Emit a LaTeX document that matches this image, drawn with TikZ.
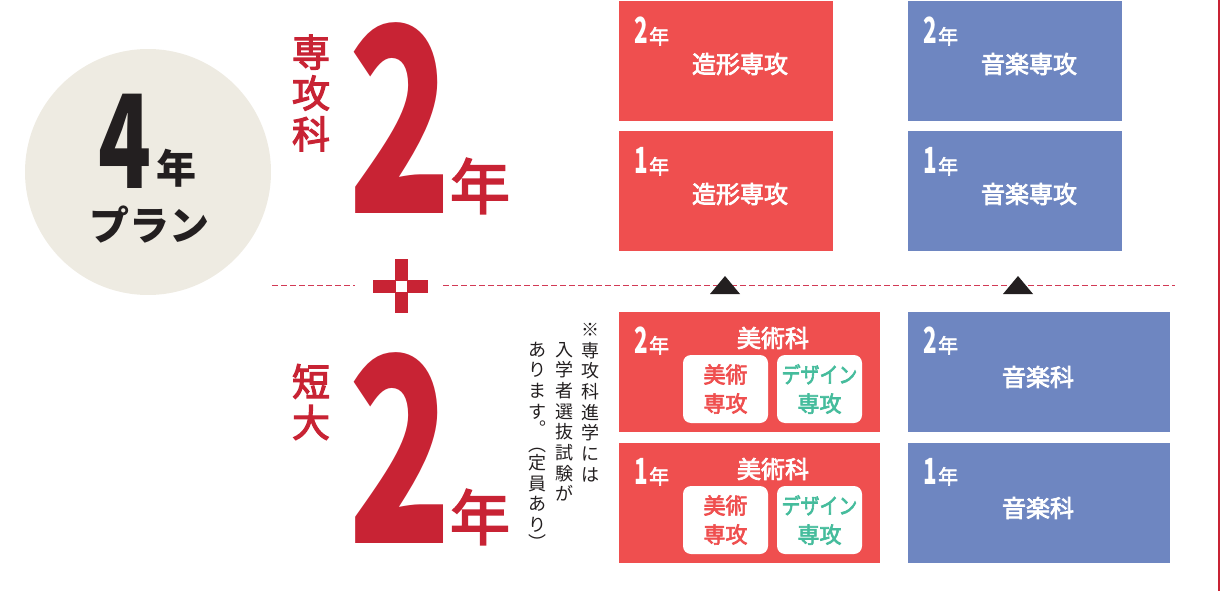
\documentclass[tikz,border=0pt]{standalone}
\usepackage{fontspec}
\setmainfont{Noto Sans CJK JP}
\newfontfamily\medfont{Noto Sans CJK JP}[FakeBold=3]
\usetikzlibrary{calc}
\definecolor{boxred}{HTML}{EF4F4F}
\definecolor{boxblue}{HTML}{6E86C1}
\definecolor{crimson}{HTML}{C82334}
\definecolor{circbg}{HTML}{EEEBE2}
\definecolor{tealc}{HTML}{45BC9C}
\definecolor{inkc}{HTML}{231F20}
\definecolor{dashc}{HTML}{D23A55}
\newcommand{\bigdigit}[3]{\scalebox{#2}[1]{\fontsize{#1}{#1}\selectfont\bfseries #3}}
\newcommand{\yrlabel}[1]{\scalebox{0.62}[1]{\fontsize{36}{36}\selectfont\bfseries #1}\kern1.5pt{\fontsize{20}{20}\selectfont\medfont 年}}
\begin{document}
\begin{tikzpicture}[x=1pt,y=-1pt,
  every node/.style={inner sep=0pt, outer sep=0pt},
  redbox/.style={fill=boxred, minimum width=214pt, minimum height=120pt, anchor=north west},
  bluebox/.style={fill=boxblue, minimum width=214pt, minimum height=120pt, anchor=north west},
  wideredbox/.style={redbox, minimum width=261pt},
  widebluebox/.style={bluebox, minimum width=262pt},
  subbox/.style={fill=white, rounded corners=8pt, minimum width=85pt, minimum height=68pt, anchor=north west},
  yr/.style={text=white, anchor=base west},
  lbl/.style={text=white, font=\fontsize{24}{24}\selectfont\medfont},
  sublbl/.style={font=\fontsize{22}{29}\selectfont\medfont, align=center},
  redtxt/.style={text=crimson},
  note/.style={text=inkc, font=\fontsize{18}{20.7}\selectfont, align=center, anchor=north},
  dashline/.style={draw=dashc, line width=1.3pt, dash pattern=on 6pt off 3pt}
]
\useasboundingbox (0,0) rectangle (1221,591);

% circle
\node[circle, fill=circbg, minimum size=246pt] (plan) at (148,172) {};
\node[anchor=base, text=inkc] (four) at (125,188) {\bigdigit{130}{0.67}{4}};
\node[text=inkc, font=\fontsize{40}{40}\selectfont\bfseries] (fouryr) at (176,168) {年};
\node[text=inkc, font=\fontsize{40}{40}\selectfont\bfseries] (planlbl) at (149,225) {プラン};

% left labels
\node[redtxt, font=\fontsize{38}{41}\selectfont\medfont, align=center] (senkoka) at (311,93) {専\\攻\\科};
\node[anchor=base, text=crimson] (twoA) at (400,213) {\bigdigit{258}{0.66}{2}};
\node[redtxt, font=\fontsize{60}{60}\selectfont\medfont] (yrA) at (480,186) {年};
\node[redtxt, font=\fontsize{38}{41}\selectfont\medfont, align=center] (tandai) at (311,402) {短\\大};
\node[anchor=base, text=crimson] (twoB) at (400,543) {\bigdigit{258}{0.66}{2}};
\node[redtxt, font=\fontsize{60}{60}\selectfont\medfont] (yrB) at (480,517) {年};

% dashed separators and plus
\draw[dashline] (272,285.5) -- (355,285.5);
\draw[dashline] (443,285.5) -- (1175,285.5);
\fill[crimson] (395,259) rectangle (408,313);
\fill[crimson] (373,280) rectangle (428,293);
\fill[white] (396,281) rectangle (407,292);

% note
\node[note] (n1) at (590,323) {※\\専\\攻\\科\\進\\学\\に\\は};
\node[note] (n2) at (564,342) {入\\学\\者\\選\\抜\\試\\験\\が};
\node[note] (n3) at (537,342) {あ\\り\\ま\\す\\[-4pt]︒\\[-4pt]︵\\[-3pt]定\\員\\あ\\り\\[-3pt]︶};

% right line
\draw[crimson, line width=2pt] (1219,0) -- (1219,591);

% upper boxes
\node[redbox] (rS2) at (619,1) {};
\node[redbox] (rS1) at (619,131) {};
\node[bluebox] (bS2) at (908,1) {};
\node[bluebox] (bS1) at (908,131) {};
\node[yr] (rS2y) at (634,44) {\yrlabel{2}};
\node[yr] (rS1y) at (634,174) {\yrlabel{1}};
\node[yr] (bS2y) at (923,44) {\yrlabel{2}};
\node[yr] (bS1y) at (923,174) {\yrlabel{1}};
\node[lbl] (rS2l) at (740,64) {造形専攻};
\node[lbl] (rS1l) at (740,194) {造形専攻};
\node[lbl] (bS2l) at (1029,64) {音楽専攻};
\node[lbl] (bS1l) at (1029,194) {音楽専攻};

% arrows (triangles)
\fill[inkc] (710,294) -- (740,294) -- (725,276) -- cycle;
\fill[inkc] (1003,294) -- (1033,294) -- (1018,276) -- cycle;

% lower boxes
\node[wideredbox] (rT2) at (619,312) {};
\node[wideredbox] (rT1) at (619,443) {};
\node[widebluebox] (bT2) at (908,312) {};
\node[widebluebox] (bT1) at (908,443) {};
\node[yr] (rT2y) at (634,353) {\yrlabel{2}};
\node[yr] (rT1y) at (634,484) {\yrlabel{1}};
\node[yr] (bT2y) at (923,353) {\yrlabel{2}};
\node[yr] (bT1y) at (923,484) {\yrlabel{1}};
\node[lbl] (rT2l) at (773,338) {美術科};
\node[lbl] (rT1l) at (773,469) {美術科};
\node[lbl] (bT2l) at (1038,377) {音楽科};
\node[lbl] (bT1l) at (1038,508) {音楽科};

\node[subbox] (a2) at (683,355) {};
\node[subbox] (d2) at (777,355) {};
\node[subbox] (a1) at (683,486) {};
\node[subbox] (d1) at (777,486) {};
\node[sublbl, text=boxred] (a2l) at (a2.center) {美術\\専攻};
\node[sublbl, text=tealc] (d2l) at (d2.center) {\scalebox{0.86}[1]{デザイン}\\専攻};
\node[sublbl, text=boxred] (a1l) at (a1.center) {美術\\専攻};
\node[sublbl, text=tealc] (d1l) at (d1.center) {\scalebox{0.86}[1]{デザイン}\\専攻};
\end{tikzpicture}
\end{document}
